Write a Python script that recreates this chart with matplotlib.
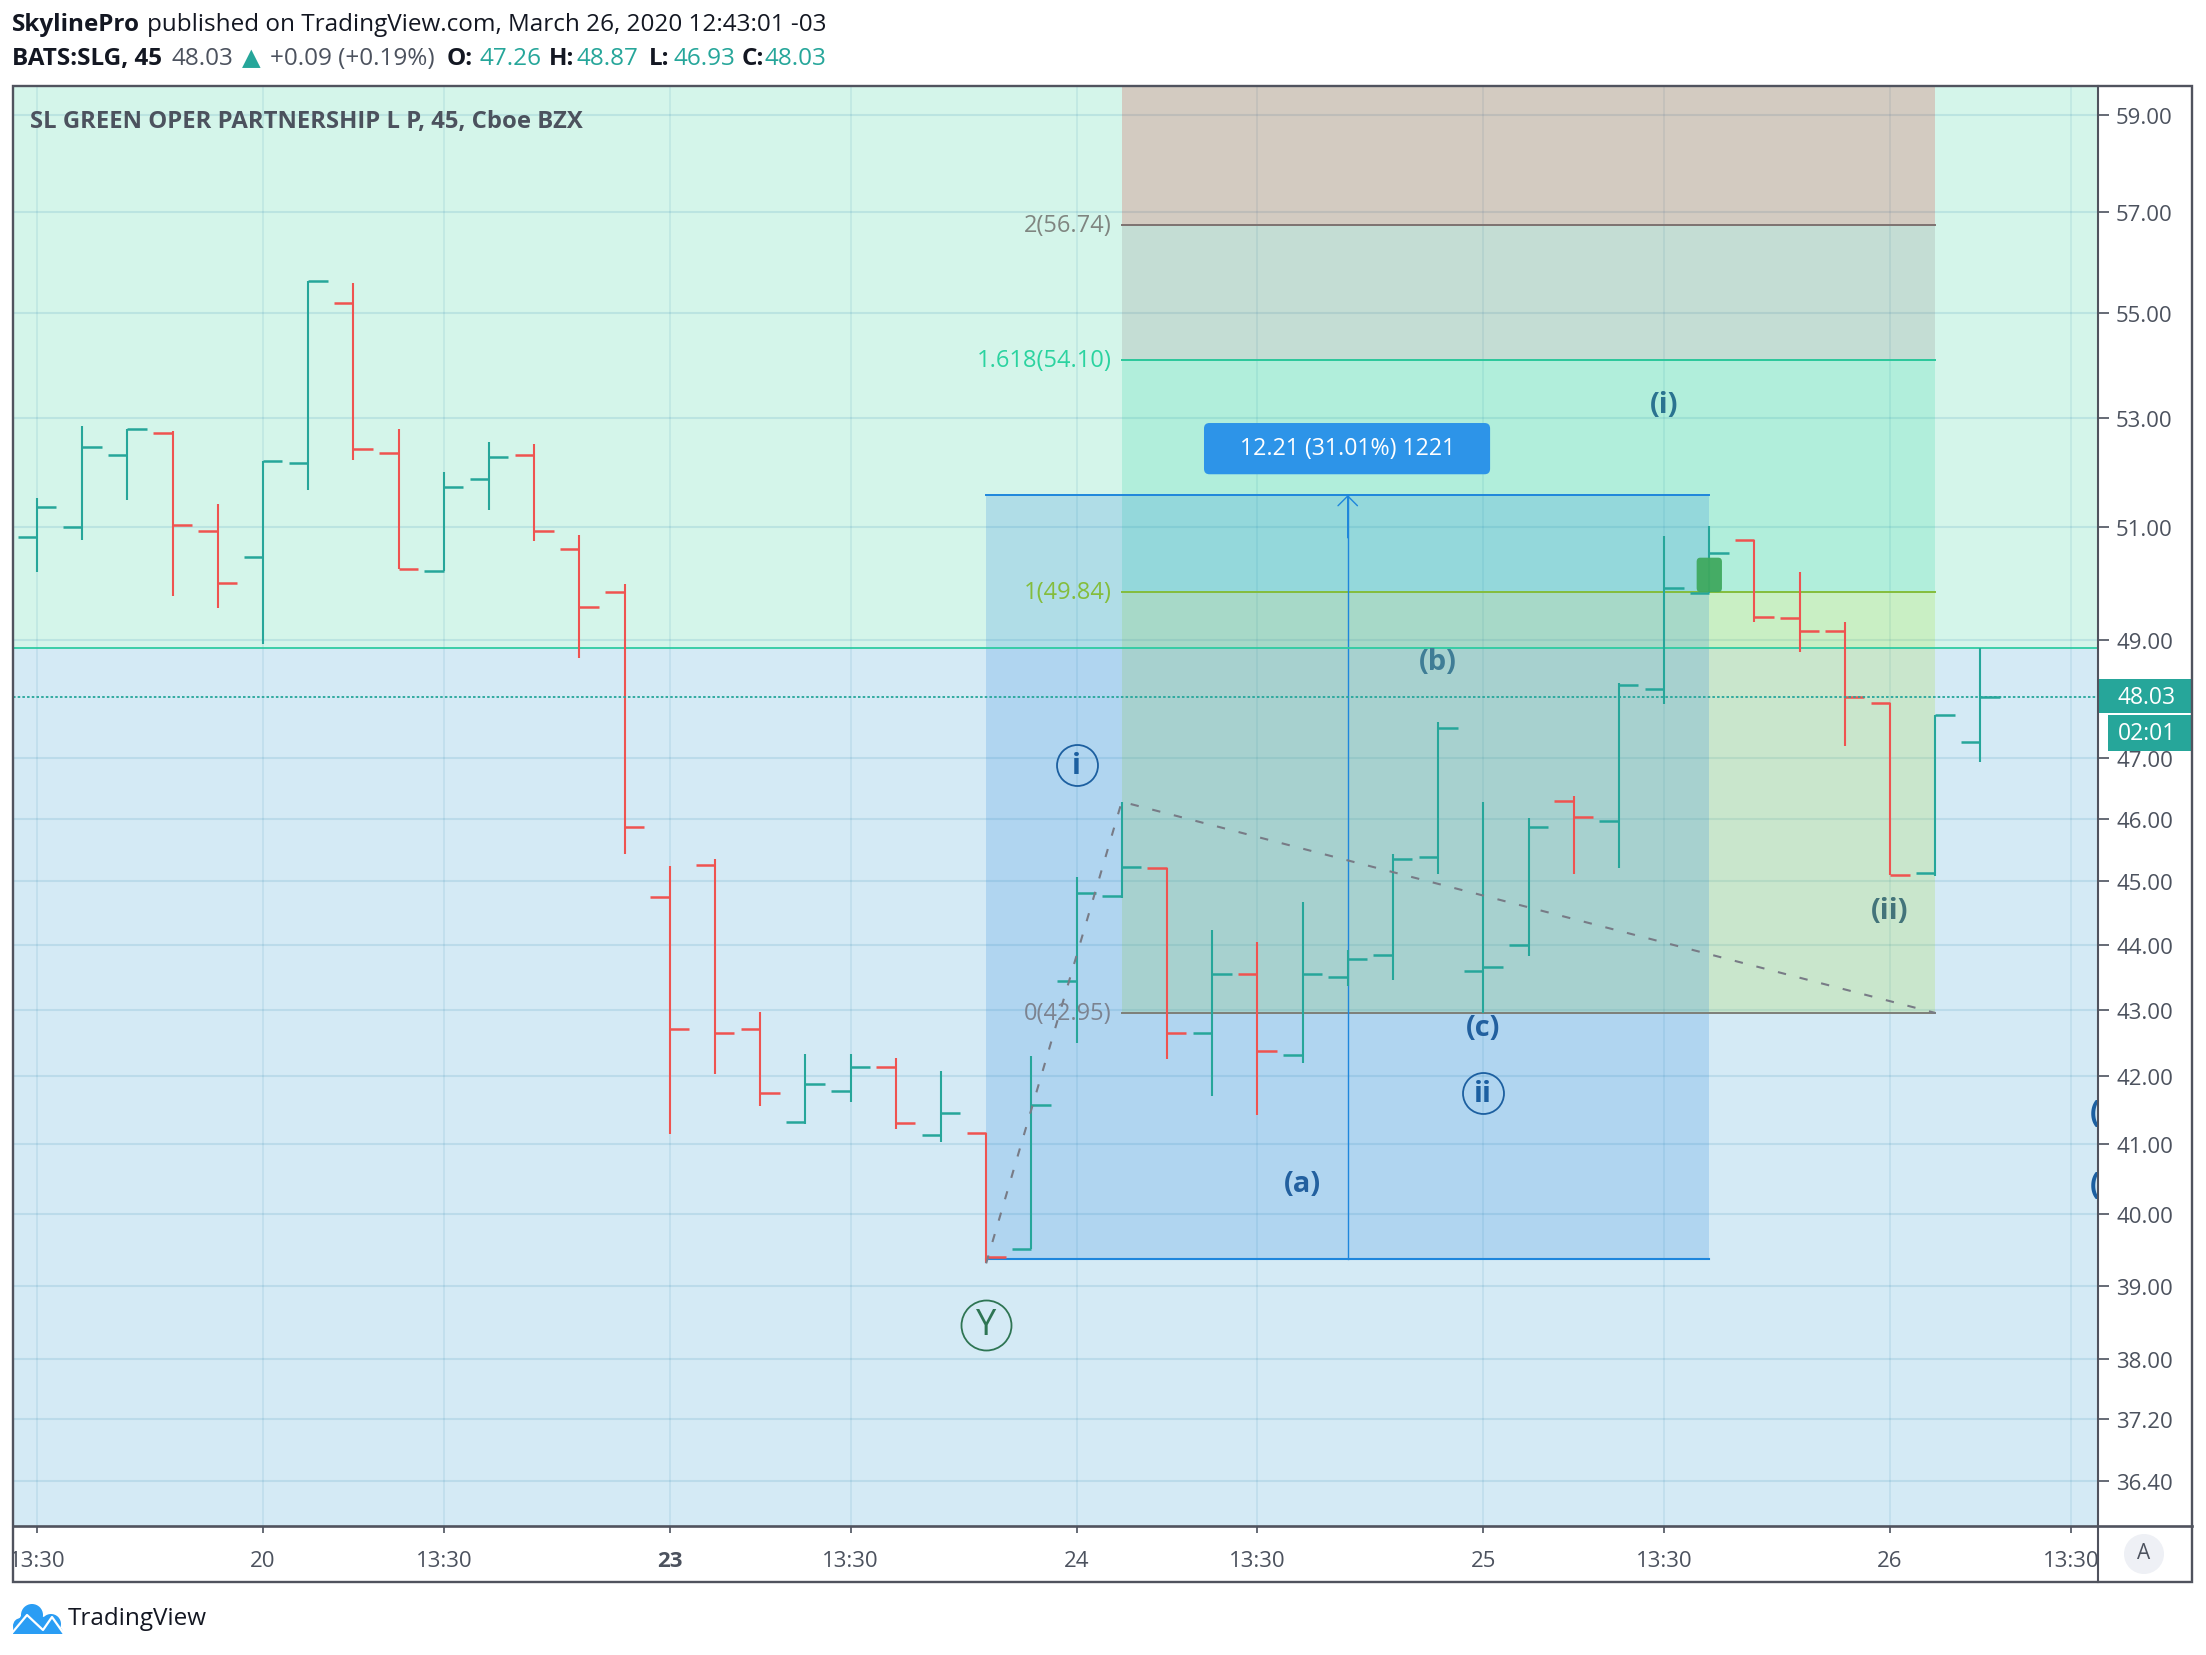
"""SLG 45 minute bar chart with TradingView style drawings."""
import matplotlib

matplotlib.use("Agg")
import matplotlib.pyplot as plt
from matplotlib.lines import Line2D
from matplotlib.patches import Circle, FancyBboxPatch, Polygon, Rectangle
from matplotlib.transforms import Bbox, TransformedBbox

plt.rcParams["font.family"] = ["Open Sans", "DejaVu Sans"]

WIDTH, HEIGHT = 2206, 1656
# plot area in pixels
LEFT, RIGHT, TOP, BOTTOM = 13, 2098, 87, 1527
OUTER_RIGHT, OUTER_BOTTOM = 2192, 1583
Y_MIN, Y_MAX = 35.825, 59.605

opens = [50.82, 51.00, 52.32, 52.72, 50.92, 50.46, 52.17, 55.21, 52.36, 50.21, 51.87,
         52.32, 50.60, 49.85, 44.75, 45.26, 42.70, 41.33, 41.78, 42.13, 41.13, 41.17,
         39.51, 43.44, 44.77, 45.20, 42.65, 43.55, 42.31, 43.50, 43.84, 45.38, 43.59,
         44.00, 46.29, 45.97, 48.16, 49.83, 50.76, 49.38, 49.16, 47.93, 45.13, 47.26]
highs = [51.52, 52.85, 52.80, 52.77, 51.41, 52.20, 55.64, 55.60, 52.80, 52.00, 52.55,
         52.52, 50.86, 49.98, 45.24, 45.36, 42.96, 42.33, 42.33, 42.27, 42.08, 41.17,
         42.30, 45.07, 46.28, 45.20, 44.23, 44.04, 44.66, 43.91, 45.43, 47.60, 46.28,
         46.01, 46.37, 48.27, 50.84, 51.02, 50.76, 50.19, 49.31, 47.93, 47.72, 48.87]
lows = [50.19, 50.76, 51.49, 49.77, 49.56, 48.94, 51.67, 52.23, 50.24, 50.21, 51.31,
        50.74, 48.69, 45.44, 41.15, 42.03, 41.56, 41.29, 41.62, 41.23, 41.03, 39.31,
        39.51, 42.49, 44.73, 42.25, 41.71, 41.43, 42.19, 43.36, 43.45, 45.11, 42.95,
        43.83, 45.11, 45.21, 47.90, 49.83, 49.32, 48.80, 47.20, 45.09, 45.08, 46.93]
closes = [51.36, 52.47, 52.80, 51.03, 50.00, 52.20, 55.64, 52.42, 50.24, 51.72, 52.27,
          50.92, 49.58, 45.87, 42.70, 42.64, 41.75, 41.89, 42.13, 41.31, 41.45, 39.40,
          41.58, 44.81, 45.22, 42.64, 43.55, 42.37, 43.55, 43.77, 45.35, 47.51, 43.65,
          45.87, 46.03, 48.23, 49.91, 50.54, 49.41, 49.16, 48.03, 45.09, 47.72, 48.03]

price_ticks = [59, 57, 55, 53, 51, 49, 47, 46, 45, 44, 43, 42, 41, 40, 39, 38, 37.2, 36.4]
time_positions = [0, 5, 9, 14, 18, 23, 27, 32, 36, 41, 45]
time_labels = ["13:30", "20", "13:30", "23", "13:30", "24", "13:30", "25", "13:30", "26", "13:30"]

fib_levels = [2, 1.618, 1, 0]
fib_prices = [56.74, 54.10, 49.84, 42.95]
fib_colors = ["#7d7270", "#2bc79b", "#84bd3c", "#7d7f78"]
fib_text_colors = ["#7f8580", "#2bd3a0", "#84bd3c", "#7c8390"]

range_low, range_high = 39.37, 51.58
split_price = 48.87
last_price = 48.03

wave_x = [21, 24, 42]
wave_y = [39.31, 46.28, 42.95]

label_text = ["(i)", "(b)", "(c)", "(a)", "(ii)"]
label_x = [36, 31, 32, 28, 41]
label_y = [53.25, 48.64, 42.73, 40.44, 44.54]
label_colors = ["#2a7390", "#3f7d96", "#22609f", "#22609f", "#43747a"]

GREEN = "#26a69a"
RED = "#ef5350"
TEXT = "#4c525e"
GRID = (25 / 255, 120 / 255, 165 / 255)
RANGE = "#1e86dc"


def draw_runs(page, renderer, x, y, runs, size):
    """Place coloured pieces of text one after the other."""
    for text, color, weight, gap in runs:
        t = page.text(x, y, text, color=color, fontweight=weight, fontsize=size,
                      ha="left", va="center")
        x += t.get_window_extent(renderer).width + gap


fig = plt.figure(figsize=(WIDTH / 100, HEIGHT / 100), dpi=100, facecolor="white")
ax = fig.add_axes([LEFT / WIDTH, 1 - BOTTOM / HEIGHT, (RIGHT - LEFT) / WIDTH, (BOTTOM - TOP) / HEIGHT])
ax.set_yscale("log")
ax.set_xlim(-0.531, 45.6)
ax.set_ylim(Y_MIN, Y_MAX)

# background split
ax.axhspan(split_price, Y_MAX, color="#d4f5ea", lw=0, zorder=0)
ax.axhspan(Y_MIN, split_price, color="#d4eaf5", lw=0, zorder=0)

# grid
for p in price_ticks:
    ax.axhline(p, color=GRID, alpha=0.13, lw=1.5, zorder=1)
for t in time_positions:
    ax.axvline(t, color=GRID, alpha=0.10, lw=1.3, zorder=1)

# fib extension bands
band_edges = [Y_MAX] + fib_prices
band_colors = [(207, 35, 29), (132, 125, 124), (37, 210, 159), (157, 215, 44)]
for hi, lo, c in zip(band_edges[:-1], band_edges[1:], band_colors):
    ax.fill_between([wave_x[1], wave_x[2]], lo, hi, color=[v / 255 for v in c], alpha=0.2, lw=0, zorder=2)
for level, price, col, tcol in zip(fib_levels, fib_prices, fib_colors, fib_text_colors):
    ax.plot([wave_x[1], wave_x[2]], [price, price], color=col, lw=1.4, zorder=2.6)
    ax.text(23.77, price, f"{level}({price:.2f})", color=tcol, fontsize=17, ha="right", va="center", zorder=5)

# date and price range
ax.fill_between([21, 37], range_low, range_high, color=(32 / 255, 129 / 255, 220 / 255), alpha=0.2, lw=0, zorder=2.2)
ax.plot([21, 37], [range_high, range_high], color=RANGE, lw=1.4, zorder=2.7)
ax.plot([21, 37], [range_low, range_low], color=RANGE, lw=1.5, zorder=2.7)
ax.plot([29, 29], [range_low, range_high], color=RANGE, lw=1.0, zorder=2.7)
ax.annotate("", xy=(29, range_high), xytext=(29, range_high * 0.985),
            arrowprops=dict(arrowstyle="->,head_width=0.35,head_length=0.35", color=RANGE, lw=1.0,
                            mutation_scale=20, shrinkA=0, shrinkB=0), zorder=2.7)
ax.add_patch(FancyBboxPatch((25.82, 51.96), 6.33, 0.95, boxstyle="round,pad=0,rounding_size=0.12",
                            mutation_aspect=0.85, fc="#2d94e8", ec="none", zorder=5))
ax.text(29.0, 52.44, "12.21 (31.01%) 1221", color="white", fontsize=16.7, ha="center", va="center", zorder=6)

ax.axhline(split_price, color="#2ecba2", lw=1.3, zorder=2.8)

# ohlc bars
for i, (o, h, l, c) in enumerate(zip(opens, highs, lows, closes)):
    col = GREEN if c >= o else RED
    ax.plot([i, i], [l, h], color=col, lw=1.5, solid_capstyle="butt", zorder=3)
    ax.plot([i - 0.43, i], [o, o], color=col, lw=1.8, solid_capstyle="butt", zorder=3)
    ax.plot([i, i + 0.43], [c, c], color=col, lw=1.8, solid_capstyle="butt", zorder=3)

ax.plot(wave_x, wave_y, color="#787b86", lw=1.5, ls=(0, (4, 6.7)), zorder=4)
ax.axhline(last_price, color=GREEN, lw=1.3, ls=(0, (1.4, 1.2)), zorder=4)

ax.add_patch(FancyBboxPatch((36.72, 49.84), 0.56, 0.61, boxstyle="round,pad=0,rounding_size=0.08",
                            mutation_aspect=0.9, fc="#3fa95f", ec="none", alpha=0.95, zorder=4.5))

# wave labels
for txt, x, y, col in zip(label_text, label_x, label_y, label_colors):
    ax.text(x, y, txt, color=col, fontsize=21, fontweight="bold", ha="center", va="center", zorder=5)
ax.text(23, 46.88, "i", color="#1c5fa0", fontsize=21, fontweight="bold", ha="center", va="center", zorder=5)
ax.plot([23], [46.88], "o", mfc="none", mec="#1c5fa0", ms=29.5, mew=1.3, zorder=5)
ax.text(32, 41.75, "ii", color="#1c5fa0", fontsize=21, fontweight="bold", ha="center", va="center", zorder=5)
ax.plot([32], [41.75], "o", mfc="none", mec="#1c5fa0", ms=29.5, mew=1.3, zorder=5)
ax.text(21, 38.47, "Y", color="#2e7553", fontsize=26, ha="center", va="center", zorder=5)
ax.plot([21], [38.47], "o", mfc="none", mec="#2e7553", ms=36, mew=1.3, zorder=5)
# two more labels are cut by the price scale
for y in [41.45, 40.41]:
    ax.text(45.42, y, "(", color="#1c5fa0", fontsize=22, fontweight="bold", ha="left", va="center",
            zorder=5, clip_on=True)

# axes
for s in ax.spines.values():
    s.set_visible(False)
ax.minorticks_off()
ax.yaxis.tick_right()
ax.set_yticks(price_ticks)
ax.set_yticks([], minor=True)
ax.set_yticklabels([f"{p:.2f}" for p in price_ticks], fontsize=16, color=TEXT)
ax.tick_params(axis="y", length=8, width=1.2, color=TEXT, pad=5)
ax.set_xticks(time_positions)
ax.set_xticklabels(time_labels, fontsize=16, color=TEXT)
ax.tick_params(axis="x", length=5, width=1.2, color=TEXT, pad=12)
clip = TransformedBbox(Bbox([[LEFT / WIDTH, 0], [RIGHT / WIDTH, 1]]), fig.transFigure)
for lab in ax.get_xticklabels():
    lab.set_clip_on(True)
    lab.set_clip_box(clip)
    if lab.get_text() == "23":
        lab.set_fontweight("bold")

ax.text(0.008, 0.9755, "SL GREEN OPER PARTNERSHIP L P, 45, Cboe BZX", transform=ax.transAxes,
        color=TEXT, fontsize=17.2, fontweight="bold", ha="left", va="center", zorder=6)

# price tags on the scale
tags = ax.get_yaxis_transform()
ax.add_patch(Rectangle((1.0, 47.75), (OUTER_RIGHT - RIGHT) / (RIGHT - LEFT), 48.34 - 47.75, transform=tags,
                       fc=GREEN, ec="none", clip_on=False, zorder=7))
ax.add_patch(Rectangle((1.0048, 47.11), (OUTER_RIGHT - RIGHT - 10) / (RIGHT - LEFT), 47.72 - 47.11, transform=tags,
                       fc=GREEN, ec="none", clip_on=False, zorder=7))
ax.text(1.0235, last_price, "48.03", transform=tags, color="white", fontsize=16.5, ha="center", va="center",
        clip_on=False, zorder=8)
ax.text(1.0235, 47.41, "02:01", transform=tags, color="white", fontsize=16.5, ha="center", va="center",
        clip_on=False, zorder=8)

# page furniture in pixel coordinates
page = fig.add_axes([0, 0, 1, 1], zorder=-1)
page.set_xlim(0, WIDTH)
page.set_ylim(HEIGHT, 0)
page.axis("off")
renderer = fig.canvas.get_renderer()
DARK = "#131722"
draw_runs(page, renderer, 12, 25, [
    ("SkylinePro", DARK, "bold", 7),
    ("published on TradingView.com, March 26, 2020 12:43:01 -03", DARK, "normal", 0),
], 17.5)
draw_runs(page, renderer, 12, 59, [
    ("BATS:SLG, 45", DARK, "bold", 10),
    ("48.03", TEXT, "normal", 8),
    ("▲", GREEN, "normal", 9),
    ("+0.09 (+0.19%)", TEXT, "normal", 12),
    ("O:", DARK, "bold", 7),
    ("47.26", GREEN, "normal", 8),
    ("H:", DARK, "bold", 2),
    ("48.87", GREEN, "normal", 10),
    ("L:", DARK, "bold", 4),
    ("46.93", GREEN, "normal", 7),
    ("C:", DARK, "bold", 0),
    ("48.03", GREEN, "normal", 0),
], 17.5)

frame = "#50535e"
fig.add_artist(Rectangle((LEFT / WIDTH, 1 - OUTER_BOTTOM / HEIGHT), (OUTER_RIGHT - LEFT) / WIDTH,
                         (OUTER_BOTTOM - TOP) / HEIGHT, transform=fig.transFigure,
                         fc="none", ec=frame, lw=1.7))
fig.add_artist(Line2D([RIGHT / WIDTH] * 2, [1 - TOP / HEIGHT, 1 - OUTER_BOTTOM / HEIGHT], color=frame, lw=1.5))
fig.add_artist(Line2D([LEFT / WIDTH, OUTER_RIGHT / WIDTH], [1 - BOTTOM / HEIGHT] * 2, color=frame, lw=1.9))

page.add_patch(Circle((2144, 1555), 20, fc="#eef0f5", ec="none"))
page.text(2144, 1554, "A", color=TEXT, fontsize=15, ha="center", va="center")

# TradingView logo
for cx, cy, r in [(21, 1627, 8), (32, 1616, 11), (51, 1625, 10)]:
    page.add_patch(Circle((cx, cy), r, fc="#2a9df4", ec="none"))
page.add_patch(Polygon([(13, 1630), (24, 1612), (44, 1618), (62, 1630), (63, 1635), (13, 1635)],
                       fc="#2a9df4", ec="none"))
page.plot([12, 27, 43, 52, 64], [1634, 1616, 1631, 1618, 1635], color="white", lw=1.6)
page.text(68, 1619, "TradingView", color=DARK, fontsize=17.5, ha="left", va="center")

fig.savefig("out.png", dpi=100, facecolor="white")
plt.close(fig)
